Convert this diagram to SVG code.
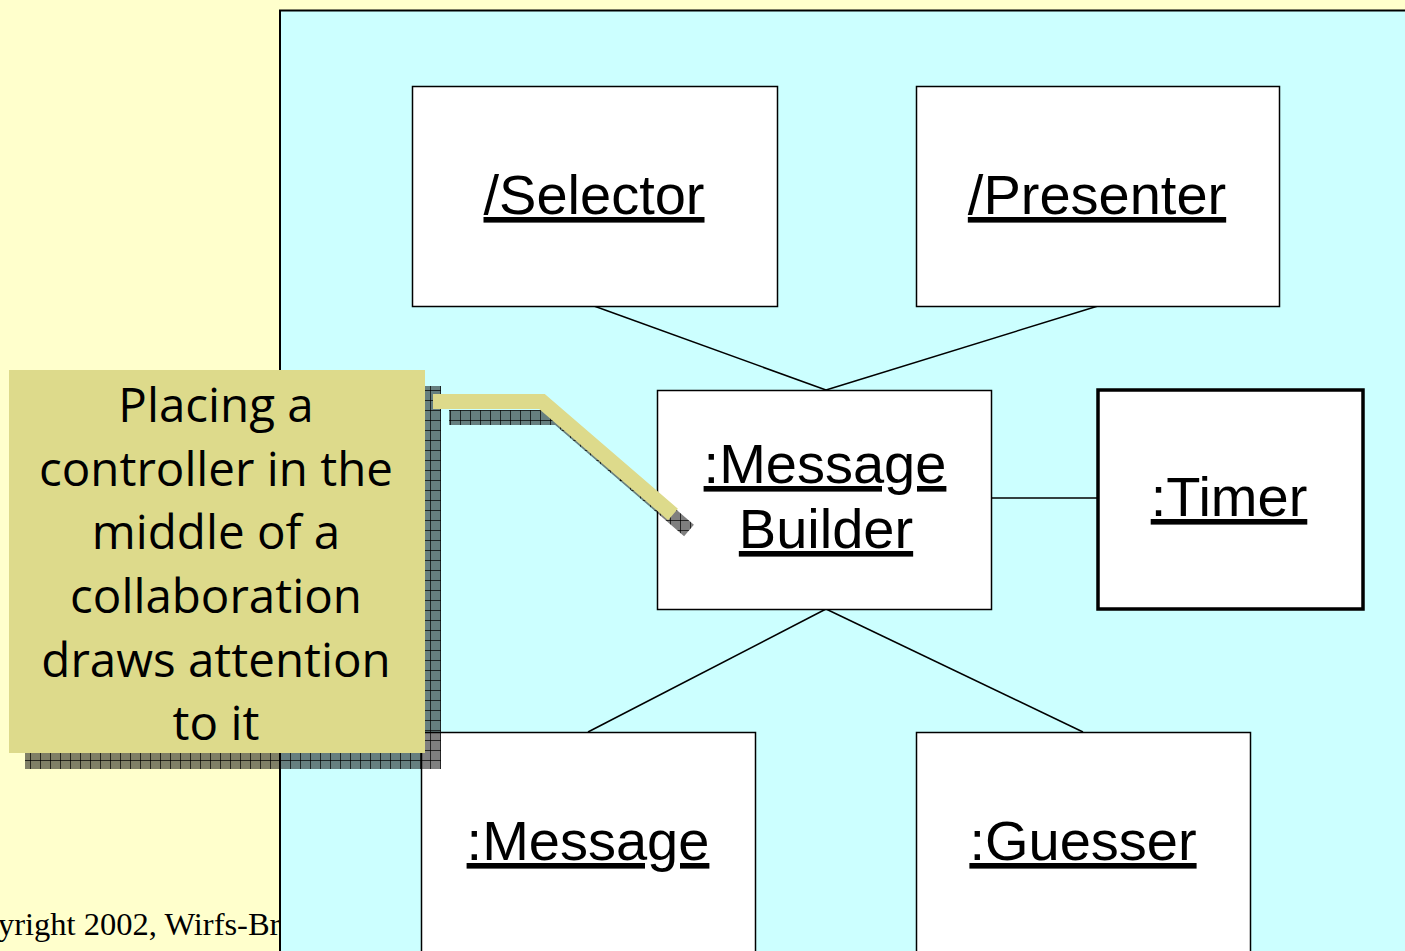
<svg xmlns="http://www.w3.org/2000/svg" width="1405" height="951" viewBox="0 0 1405 951">
<defs>
<style>
.node{fill:#fff;stroke:#000;stroke-width:1.5}
.thick{stroke-width:3.5}
.lbl{font-family:"Liberation Sans",Arial,sans-serif;font-size:56px;text-anchor:middle;text-decoration:underline;fill:#000}
.conn{stroke:#000;stroke-width:1.5;fill:none}
.note{font-family:"Open Sans","Liberation Sans",sans-serif;font-size:47.5px;text-anchor:middle;fill:#000}
</style>
<pattern id="hatch" width="10" height="10" patternUnits="userSpaceOnUse">
<rect width="10" height="10" fill="#000" fill-opacity="0.5"/>
<path d="M0 0.5H10M0.5 0V10" stroke="#000" stroke-width="1" stroke-opacity="0.7"/>
</pattern>
</defs>
<rect width="1405" height="951" fill="#FFFFCC"/>
<text x="-2" y="935" font-family="'Liberation Serif','Times New Roman',serif" font-size="32.5" fill="#000">yright 2002, Wirfs-Bro</text>
<rect id="panel" x="280" y="10.5" width="1140" height="960" fill="#CCFFFF" stroke="#000" stroke-width="2"/>
<g id="connectors">
<line class="conn" x1="594" y1="306" x2="826" y2="390"/>
<line class="conn" x1="1098" y1="306" x2="826" y2="390"/>
<line class="conn" x1="991" y1="498" x2="1097" y2="498"/>
<line class="conn" x1="826" y1="609" x2="588" y2="732"/>
<line class="conn" x1="826" y1="609" x2="1083" y2="732"/>
</g>
<g id="selector">
<rect class="node" x="412.5" y="86.5" width="365" height="220"/>
<text class="lbl" x="594" y="214">/Selector</text>
</g>
<g id="presenter">
<rect class="node" x="916.5" y="86.5" width="363" height="220"/>
<text class="lbl" x="1097" y="214">/Presenter</text>
</g>
<g id="messagebuilder">
<rect class="node" x="657.5" y="390.5" width="334" height="219"/>
<text class="lbl" x="825" y="483">:Message</text>
<text class="lbl" x="826" y="548">Builder</text>
</g>
<g id="timer">
<rect class="node thick" x="1098" y="390" width="265" height="219"/>
<text class="lbl" x="1229" y="516">:Timer</text>
</g>
<g id="message">
<rect class="node" x="421.5" y="732.5" width="334" height="240"/>
<text class="lbl" x="588" y="860">:Message</text>
</g>
<g id="guesser">
<rect class="node" x="916.5" y="732.5" width="334" height="240"/>
<text class="lbl" x="1083" y="860">:Guesser</text>
</g>
<g id="callout">
<rect x="25" y="386" width="416" height="383" fill="url(#hatch)"/>
<polyline points="449,417.5 558,417.5 689,530.5" fill="none" stroke="url(#hatch)" stroke-width="15"/>
<polyline points="433,401.5 542,401.5 673,514.5" fill="none" stroke="#DDDA8B" stroke-width="15"/>
<rect x="9" y="370" width="416" height="383" fill="#DDDA8B"/>
<text class="note" x="216" y="422">Placing a</text>
<text class="note" x="216" y="486">controller in the</text>
<text class="note" x="216" y="549">middle of a</text>
<text class="note" x="216" y="613">collaboration</text>
<text class="note" x="216" y="677">draws attention</text>
<text class="note" x="216" y="740">to it</text>
</g>
</svg>
